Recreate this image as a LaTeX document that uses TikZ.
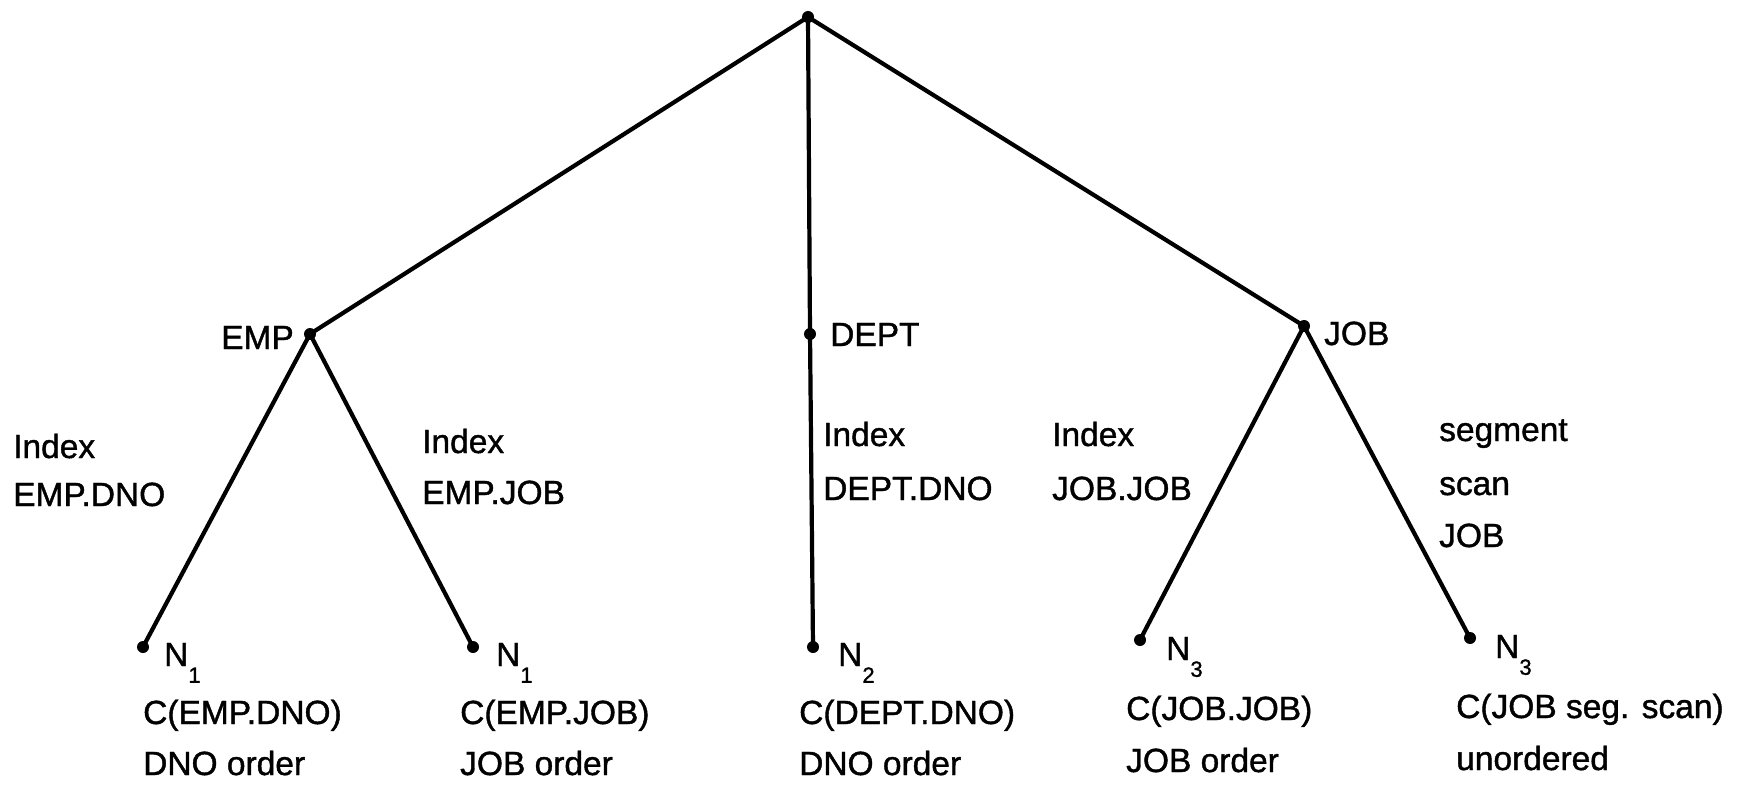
\documentclass[tikz,border=0pt]{standalone}
\usepackage{fontspec}
\setmainfont[FakeBold=1.2]{Liberation Sans}
\begin{document}
\begin{tikzpicture}[x=1pt,y=-1pt,
  dot/.style={circle,fill=black,inner sep=0pt,minimum size=12pt},
  edge/.style={line width=4.2pt},
  lbl/.style={inner sep=0pt,font=\fontsize{33.5}{40}\selectfont},
]
\useasboundingbox (0,0) rectangle (1760,794);
\newcommand{\sub}[1]{\raisebox{-0.5em}{\fontsize{22}{22}\selectfont #1}}
% tree nodes
\node[dot] (root) at (808,17) {};
\node[dot] (emp)  at (310,334) {};
\node[dot] (dept) at (810,334) {};
\node[dot] (job)  at (1304,326) {};
\node[dot] (l1) at (143,647) {};
\node[dot] (l2) at (473,647) {};
\node[dot] (l3) at (813,647) {};
\node[dot] (l4) at (1140,640) {};
\node[dot] (l5) at (1470,638) {};
% connectors
\draw[edge] (root.center) -- (emp.center);
\draw[edge] (root.center) -- (dept.center);
\draw[edge] (root.center) -- (job.center);
\draw[edge] (emp.center) -- (l1.center);
\draw[edge] (emp.center) -- (l2.center);
\draw[edge] (dept.center) -- (l3.center);
\draw[edge] (job.center) -- (l4.center);
\draw[edge] (job.center) -- (l5.center);
% node labels
\node[lbl,anchor=base east] (tEMP) at (294,349) {EMP};
\node[lbl,anchor=base west] (tDEPT) at (830,346) {DEPT};
\node[lbl,anchor=base west] (tJOB) at (1324,345) {JOB};
% edge labels
\node[lbl,anchor=base west] (a1) at (13,458) {Index};
\node[lbl,anchor=base west] (a2) at (13,506) {EMP.DNO};
\node[lbl,anchor=base west] (b1) at (422,453) {Index};
\node[lbl,anchor=base west] (b2) at (422,504) {EMP.JOB};
\node[lbl,anchor=base west] (c1) at (823,446) {Index};
\node[lbl,anchor=base west] (c2) at (823,500) {DEPT.DNO};
\node[lbl,anchor=base west] (d1) at (1052,446) {Index};
\node[lbl,anchor=base west] (d2) at (1052,500) {JOB.JOB};
\node[lbl,anchor=base west] (e1) at (1439,441) {segment};
\node[lbl,anchor=base west] (e2) at (1439,495) {scan};
\node[lbl,anchor=base west] (e3) at (1439,547) {JOB};
% leaf labels
\node[lbl,anchor=base west] (n1) at (164,666) {N\sub{1}};
\node[lbl,anchor=base west] (n2) at (496,666) {N\sub{1}};
\node[lbl,anchor=base west] (n3) at (838,666) {N\sub{2}};
\node[lbl,anchor=base west] (n4) at (1166,660) {N\sub{3}};
\node[lbl,anchor=base west] (n5) at (1495,658) {N\sub{3}};
\node[lbl,anchor=base west] (p1) at (143,724) {C(EMP.DNO)};
\node[lbl,anchor=base west] (q1) at (143,775) {DNO order};
\node[lbl,anchor=base west] (p2) at (460,724) {C(EMP.JOB)};
\node[lbl,anchor=base west] (q2) at (460,775) {JOB order};
\node[lbl,anchor=base west] (p3) at (799,724) {C(DEPT.DNO)};
\node[lbl,anchor=base west] (q3) at (799,775) {DNO order};
\node[lbl,anchor=base west] (p4) at (1126,720) {C(JOB.JOB)};
\node[lbl,anchor=base west] (q4) at (1126,772) {JOB order};
\node[lbl,anchor=base west] (p5) at (1456,718) {C(JOB seg. scan)};
\node[lbl,anchor=base west] (q5) at (1456,770) {unordered};
\end{tikzpicture}
\end{document}
